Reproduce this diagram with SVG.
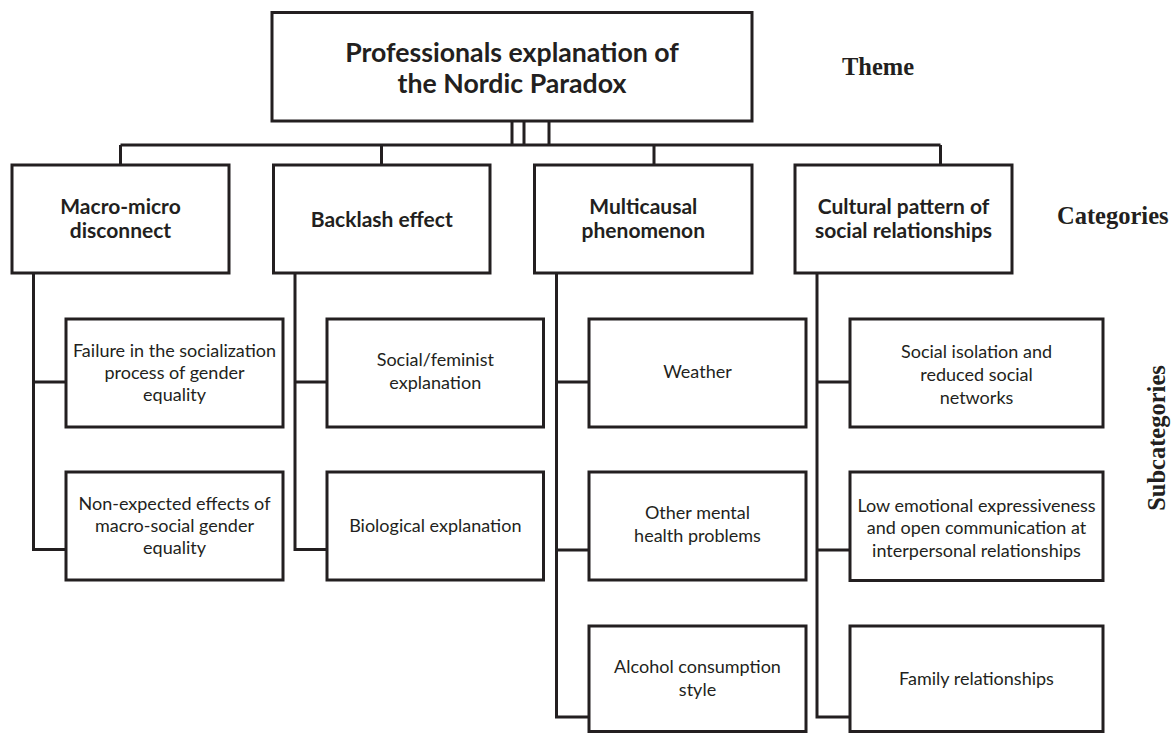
<svg xmlns="http://www.w3.org/2000/svg" width="1172" height="733" viewBox="0 0 1172 733">
<style>
.box{fill:#fff;stroke:#231f20;stroke-width:3}
.ln{fill:none;stroke:#231f20;stroke-width:3}
.t0{font-family:Lato,"Liberation Sans",sans-serif;font-weight:bold;font-size:26.7px;fill:#231f20;text-anchor:middle}
.t1{font-family:Lato,"Liberation Sans",sans-serif;font-weight:bold;font-size:21px;fill:#231f20;text-anchor:middle}
.t2{font-family:Lato,"Liberation Sans",sans-serif;font-size:18px;fill:#231f20;text-anchor:middle}
.lab{font-family:"Liberation Serif","Times New Roman",serif;font-weight:bold;font-size:24.5px;fill:#231f20}
</style>
<rect width="1172" height="733" fill="#fff"/>
<g id="connectors">
<path class="ln" d="M512 121V145M524 121V145M549 121V145M120.5 145H940.5M120.5 145V165M381.5 145V165M654 145V165M940.5 145V165"/>
<path class="ln" d="M33.5 273V549.5H66M33.5 382H66"/>
<path class="ln" d="M295 273V549.5H327M295 382H327"/>
<path class="ln" d="M556.5 273V717H589M556.5 382H589M556.5 550H589"/>
<path class="ln" d="M817 273V717H850M817 382H850M817 550H850"/>
</g>
<g id="theme">
<rect class="box" x="272" y="12.5" width="480" height="108.5"/>
<text class="t0" x="512" y="62">Professionals explanation of</text>
<text class="t0" x="512" y="93">the Nordic Paradox</text>
</g>
<g id="cat1">
<rect class="box" x="12" y="165" width="217" height="108"/>
<text class="t1" x="120.5" y="214">Macro-micro</text>
<text class="t1" x="120.5" y="238">disconnect</text>
</g>
<g id="cat2">
<rect class="box" x="273.5" y="165" width="216.5" height="108"/>
<text class="t1" x="381.8" y="226.5">Backlash effect</text>
</g>
<g id="cat3">
<rect class="box" x="534.5" y="165" width="217.5" height="108"/>
<text class="t1" x="643.3" y="214">Multicausal</text>
<text class="t1" x="643.3" y="238">phenomenon</text>
</g>
<g id="cat4">
<rect class="box" x="795" y="165" width="217" height="108"/>
<text class="t1" x="903.5" y="214">Cultural pattern of</text>
<text class="t1" x="903.5" y="238">social relationships</text>
</g>
<g id="sub1a">
<rect class="box" x="66" y="319" width="217" height="108"/>
<text class="t2" x="174.5" y="357">Failure in the socialization</text>
<text class="t2" x="174.5" y="379">process of gender</text>
<text class="t2" x="174.5" y="401">equality</text>
</g>
<g id="sub1b">
<rect class="box" x="66" y="472" width="217" height="108"/>
<text class="t2" x="174.5" y="509.5">Non-expected effects of</text>
<text class="t2" x="174.5" y="531.5">macro-social gender</text>
<text class="t2" x="174.5" y="553.5">equality</text>
</g>
<g id="sub2a">
<rect class="box" x="327" y="319" width="216.5" height="108"/>
<text class="t2" x="435.3" y="366">Social/feminist</text>
<text class="t2" x="435.3" y="389">explanation</text>
</g>
<g id="sub2b">
<rect class="box" x="327" y="472" width="216.5" height="108"/>
<text class="t2" x="435.3" y="532">Biological explanation</text>
</g>
<g id="sub3a">
<rect class="box" x="589" y="319" width="217" height="108"/>
<text class="t2" x="697.5" y="378">Weather</text>
</g>
<g id="sub3b">
<rect class="box" x="589" y="472" width="217" height="108"/>
<text class="t2" x="697.5" y="519">Other mental</text>
<text class="t2" x="697.5" y="542">health problems</text>
</g>
<g id="sub3c">
<rect class="box" x="589" y="626" width="217" height="105.5"/>
<text class="t2" x="697.5" y="673">Alcohol consumption</text>
<text class="t2" x="697.5" y="696">style</text>
</g>
<g id="sub4a">
<rect class="box" x="850" y="319" width="253" height="108"/>
<text class="t2" x="976.5" y="358">Social isolation and</text>
<text class="t2" x="976.5" y="381">reduced social</text>
<text class="t2" x="976.5" y="404">networks</text>
</g>
<g id="sub4b">
<rect class="box" x="850" y="472" width="253" height="108.5"/>
<text class="t2" x="976.5" y="511.5">Low emotional expressiveness</text>
<text class="t2" x="976.5" y="534">and open communication at</text>
<text class="t2" x="976.5" y="556.5">interpersonal relationships</text>
</g>
<g id="sub4c">
<rect class="box" x="850" y="626" width="253" height="105.5"/>
<text class="t2" x="976.5" y="685">Family relationships</text>
</g>
<g id="labels">
<text class="lab" x="842" y="75">Theme</text>
<text class="lab" x="1057" y="224">Categories</text>
<text class="lab" x="1165" y="438" text-anchor="middle" font-size="27.5px" transform="rotate(-90 1165 438)">Subcategories</text>
</g>
</svg>
